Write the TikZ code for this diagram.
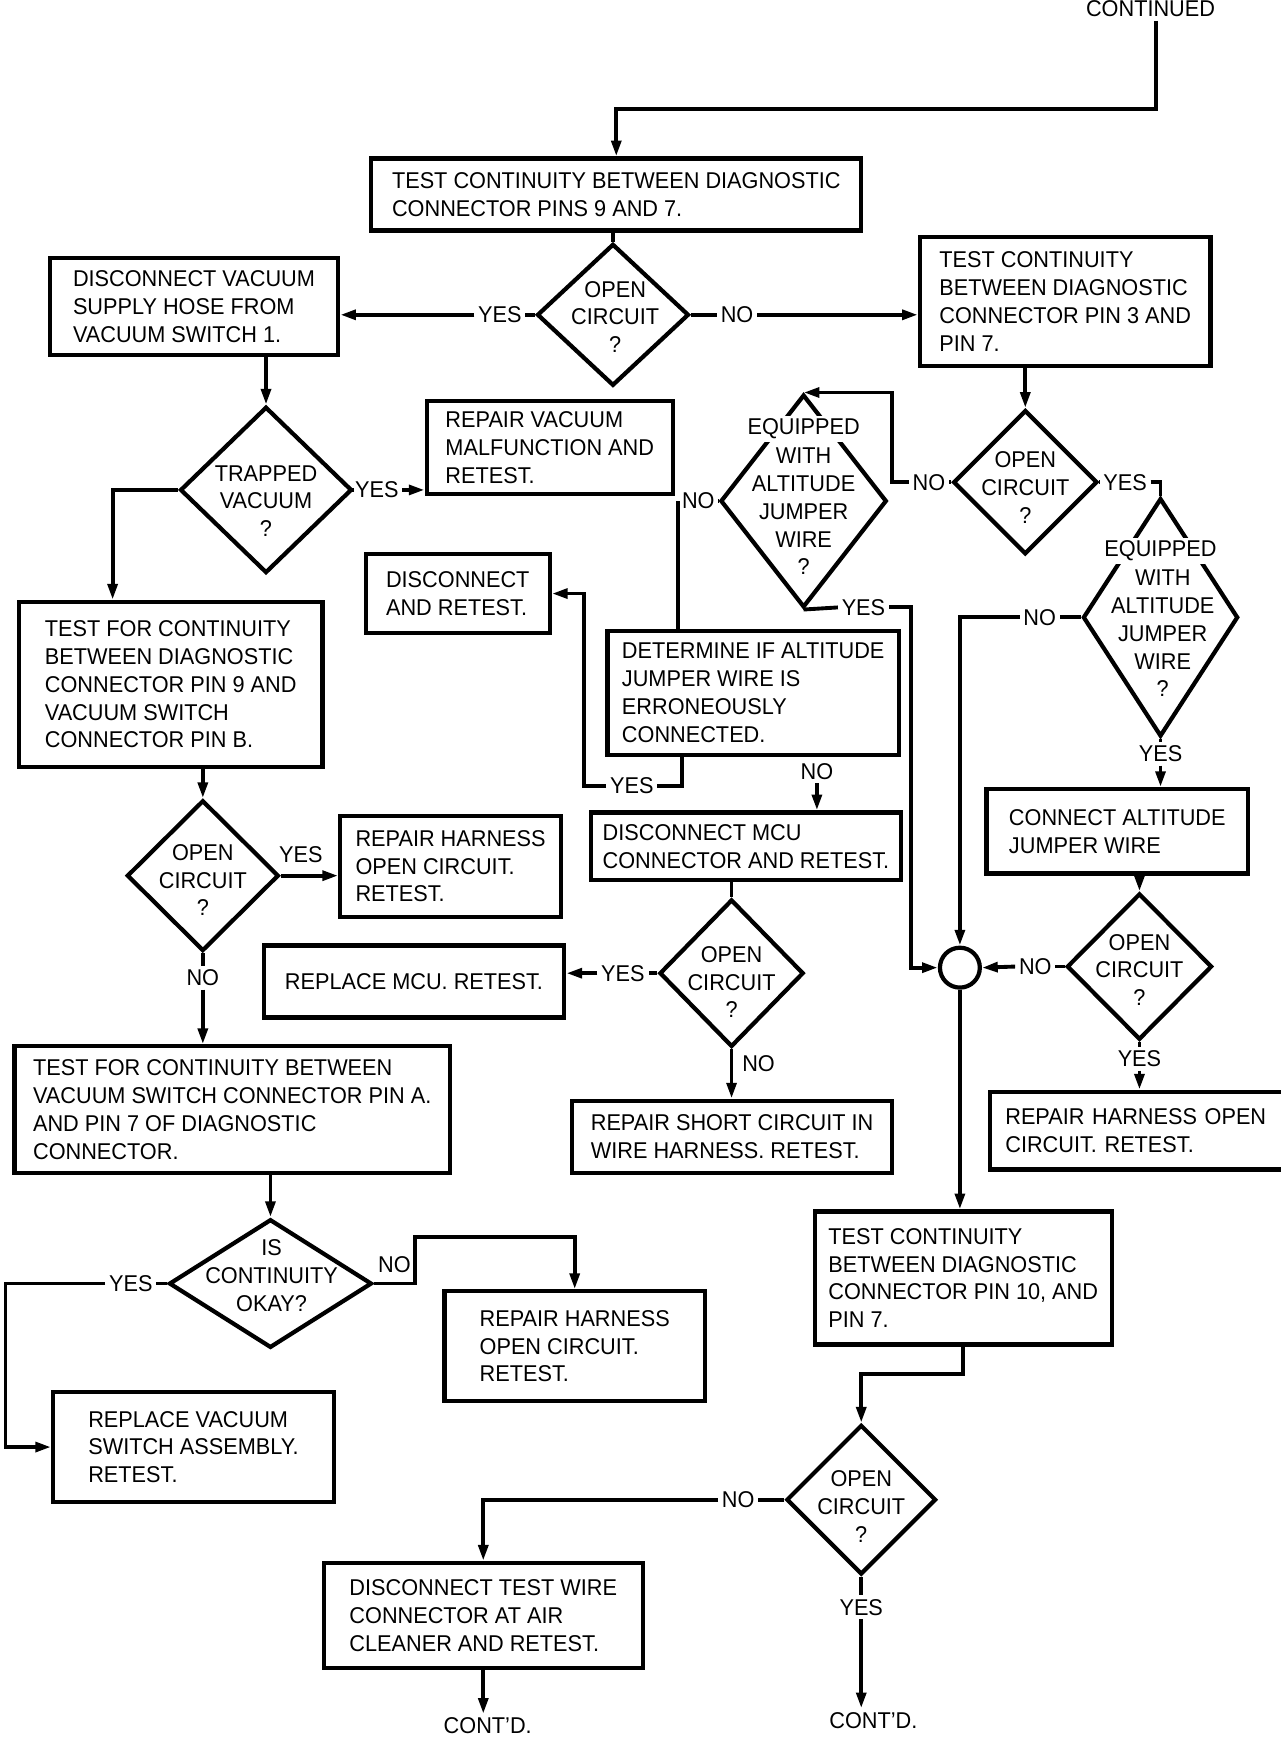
\documentclass[tikz,border=0pt]{standalone}
\usepackage{fontspec}
\setmainfont{Liberation Sans}[FakeStretch=0.95]
\usetikzlibrary{shapes.geometric,arrows.meta}

\newcommand{\px}{0.022164cm}
\newcommand{\chartfont}{\fontsize{13}{15.8}\selectfont}
\tikzset{
  testbox/.style 2 args={draw, line width=2.4pt, align=left, font=\chartfont, inner sep=0pt, minimum width=#1*\px, minimum height=#2*\px},
  query/.style 2 args={draw, diamond, line width=2.4pt, inner sep=0pt, minimum width=#1*\px, minimum height=#2*\px},
  qtext/.style={align=center, font=\chartfont, inner sep=0pt},
  answer/.style={font=\chartfont, inner sep=2pt},
  cutlabel/.style={font=\chartfont, fill=white, inner sep=1.5pt},
  flow/.style={line width=2.2pt},
  arr/.style={flow, -{Triangle[length=9pt,width=5.5pt]}},
}

\begin{document}
\begin{tikzpicture}[x=\px, y=-\px, line join=miter]
    \useasboundingbox (0,0) rectangle (1155,1568);

    % Top of the chart
    \node[answer] (cont) at (1038,8) {CONTINUED};
    \coordinate (bend0) at (1043,98);
    \node[testbox={442}{65}] (pins97) at (556,175.5) {TEST CONTINUITY BETWEEN DIAGNOSTIC\\CONNECTOR PINS 9 AND 7.};
    \node[query={137}{128}] (open1) at (553,284) {};
    \node[qtext] (open1t) at (555,286) {OPEN\\CIRCUIT\\?};

    % Left column
    \node[testbox={260}{87}] (hose) at (175,276.5) {DISCONNECT VACUUM\\SUPPLY HOSE FROM\\VACUUM SWITCH 1.};
    \node[query={155}{150}] (trap) at (240,442) {};
    \node[qtext] (trapt) at (240,452) {TRAPPED\\VACUUM\\?};
    \node[testbox={222}{84}] (repvac) at (496,404) {REPAIR VACUUM\\MALFUNCTION AND\\RETEST.};
    \node[testbox={274}{149}] (pin9b) at (154,617.5) {TEST FOR CONTINUITY\\BETWEEN DIAGNOSTIC\\CONNECTOR PIN 9 AND\\VACUUM SWITCH\\CONNECTOR PIN B.};
    \node[query={137}{136}] (open2) at (183,790) {};
    \node[qtext] (open2t) at (183,794) {OPEN\\CIRCUIT\\?};
    \node[testbox={199}{91}] (harn1) at (406.5,781.5) {REPAIR HARNESS\\OPEN CIRCUIT.\\RETEST.};
    \node[testbox={393}{114}] (pinA) at (209.5,1001) {TEST FOR CONTINUITY BETWEEN\\VACUUM SWITCH CONNECTOR PIN A.\\AND PIN 7 OF DIAGNOSTIC\\CONNECTOR.};
    \node[query={183}{116}] (okay) at (244,1158) {};
    \node[qtext] (okayt) at (245,1151) {IS\\CONTINUITY\\OKAY?};
    \node[testbox={253}{99}] (swasm) at (174.5,1305.5) {REPLACE VACUUM\\SWITCH ASSEMBLY.\\RETEST.};
    \node[testbox={235}{99}] (harn2) at (518.5,1214.5) {REPAIR HARNESS\\OPEN CIRCUIT.\\RETEST.};

    % Middle column
    \node[testbox={166}{71}] (discon) at (413,535.5) {DISCONNECT\\AND RETEST.};
    \node[query={150}{192}] (equip1) at (725,452) {};
    \node[cutlabel] (equip1a) at (725,387) {EQUIPPED};
    \node[qtext] (equip1t) at (725,461.5) {WITH\\ALTITUDE\\JUMPER\\WIRE\\?};
    \node[testbox={263}{112}] (erron) at (679.5,625) {DETERMINE IF ALTITUDE\\JUMPER WIRE IS\\ERRONEOUSLY\\CONNECTED.};
    \node[testbox={280}{61}] (mcu) at (673,763.5) {DISCONNECT MCU\\CONNECTOR AND RETEST.};
    \node[query={130}{133}] (open4) at (660,878) {};
    \node[qtext] (open4t) at (660,886) {OPEN\\CIRCUIT\\?};
    \node[testbox={271}{65}] (replmcu) at (373.5,885.5) {REPLACE MCU. RETEST.};
    \node[testbox={289}{65}] (short) at (660.5,1025.5) {REPAIR SHORT CIRCUIT IN\\WIRE HARNESS. RETEST.};

    % Right column
    \node[testbox={262}{116}] (pin3) at (961,272) {TEST CONTINUITY\\BETWEEN DIAGNOSTIC\\CONNECTOR PIN 3 AND\\PIN 7.};
    \node[query={130}{130}] (open3) at (925,435) {};
    \node[qtext] (open3t) at (925,440) {OPEN\\CIRCUIT\\?};
    \node[query={140}{215}] (equip2) at (1047,557) {};
    \node[cutlabel] (equip2a) at (1047,497) {EQUIPPED};
    \node[qtext] (equip2t) at (1049,571.5) {WITH\\ALTITUDE\\JUMPER\\WIRE\\?};
    \node[testbox={236}{76}] (jumper) at (1008,750) {CONNECT ALTITUDE\\JUMPER WIRE};
    \node[query={131}{132}] (open5) at (1028,872) {};
    \node[qtext] (open5t) at (1028,875) {OPEN\\CIRCUIT\\?};
    \node[testbox={290}{70}, text width=262*\px] (harn3) at (1038,1020) {REPAIR HARNESS OPEN\\CIRCUIT. RETEST.};
    \node[draw, circle, line width=2.4pt, inner sep=0pt, minimum size=36*\px] (jn) at (866,873) {};
    \node[testbox={268}{120}] (pin10) at (869,1153) {TEST CONTINUITY\\BETWEEN DIAGNOSTIC\\CONNECTOR PIN 10, AND\\PIN 7.};
    \node[query={135}{135}] (open6) at (777,1353) {};
    \node[qtext] (open6t) at (777,1359) {OPEN\\CIRCUIT\\?};
    \node[testbox={288}{95}] (airc) at (436,1457.5) {DISCONNECT TEST WIRE\\CONNECTOR AT AIR\\CLEANER AND RETEST.};
    \node[answer] (contd1) at (440,1557) {CONT'D.};
    \node[answer] (contd2) at (788,1552) {CONT'D.};

    % Answers
    \node[answer] (yes1) at (451,284) {YES};
    \node[answer] (no1) at (665,284) {NO};
    \node[answer] (yes2) at (340,442) {YES};
    \node[answer] (no3) at (183,882) {NO};
    \node[answer] (yes4) at (118,1158) {YES};
    \node[answer] (no5) at (630,452) {NO};
    \node[answer] (yes5) at (570,709) {YES};
    \node[answer] (no6) at (737,696) {NO};
    \node[answer] (yes7) at (562,878) {YES};
    \node[answer] (no8) at (838,435) {NO};
    \node[answer] (yes8) at (1015,435) {YES};
    \node[answer] (no9) at (938,557) {NO};
    \node[answer] (yes9) at (1047,680) {YES};
    \node[answer] (no10) at (934,872) {NO};
    \node[answer] (yes10) at (1028,955) {YES};
    \node[answer] (yes11) at (779,548) {YES};
    \node[answer] (no11) at (666,1353) {NO};
    \node[answer] (yes12) at (777,1450) {YES};

    % Connectors, top and left
    \draw[arr] (cont.south -| bend0) -- (bend0) -| (pins97.north);
    \draw[flow] (open1.north |- pins97.south) -- (open1.north);
    \draw[flow] (open1.west) -- (yes1.east);
    \draw[arr] (yes1.west) -- (yes1.west -| hose.east);
    \draw[flow] (open1.east) -- (no1.west);
    \draw[arr] (no1.east) -- (no1.east -| pin3.west);
    \draw[arr] (trap.north |- hose.south) -- (trap.north);
    \draw[flow] (trap.east) -- (yes2.west);
    \draw[arr] (yes2.east) -- (yes2.east -| repvac.west);
    \draw[arr] (trap.west) -- ++(-59,0) coordinate (bend1) -- (bend1 |- pin9b.north);
    \draw[arr] (open2.north |- pin9b.south) -- (open2.north);
    \draw[arr] (open2.east) -- node[answer, above=4pt, pos=0.35] (yes3) {YES} (open2.east -| harn1.west);
    \draw[flow] (open2.south) -- (no3.north);
    \draw[arr] (no3.south) -- (no3.south |- pinA.north);
    \draw[arr] (okay.north |- pinA.south) -- (okay.north);
    \draw[flow] (okay.west) -- (yes4.east);
    \draw[arr] (yes4.west) -- ++(-90,0) |- (swasm.west);
    \draw[arr] (okay.east) -- node[answer, above=3pt] (no4) {NO} ++(37,0) -- ++(0,-42) -| (harn2.north);

    % Connectors, middle
    \draw[flow] (equip1.west) -- (no5.east);
    \draw[flow] (no5.west) -- (no5.west |- erron.north);
    \draw[flow] (yes5.east) -- ++(22,0) coordinate (bend2) -- (bend2 |- erron.south);
    \draw[arr] (yes5.west) -- ++(-20,0) |- (discon.east);
    \draw[arr] (no6.south) -- (no6.south |- mcu.north);
    \draw[flow] (open4.north |- mcu.south) -- (open4.north);
    \draw[flow] (open4.west) -- (yes7.east);
    \draw[arr] (yes7.west) -- (yes7.west -| replmcu.east);
    \draw[arr] (open4.south) -- node[answer, right=3pt, pos=0.3] (no7) {NO} (open4.south |- short.north);

    % Connectors, right
    \draw[arr] (open3.north |- pin3.south) -- (open3.north);
    \draw[flow] (open3.west) -- (no8.east);
    \draw[arr] (no8.west) -- ++(-15,0) |- (equip1.north);
    \draw[flow] (open3.east) -- (yes8.west);
    \draw[flow] (yes8.east) -| (equip2.north);
    \draw[flow] (equip2.west) -- (no9.east);
    \draw[arr] (no9.west) -| (jn.north);
    \draw[flow] (equip2.south) -- (yes9.north);
    \draw[arr] (yes9.south) -- (yes9.south |- jumper.north);
    \draw[arr] (open5.north |- jumper.south) -- (open5.north);
    \draw[flow] (open5.west) -- (no10.east);
    \draw[arr] (no10.west) -- (jn.east);
    \draw[flow] (open5.south) -- (yes10.north);
    \draw[arr] (yes10.south) -- (yes10.south |- harn3.north);
    \draw[flow] (equip1.south) -- (yes11.west);
    \draw[arr] (yes11.east) -- ++(20,0) |- (jn.west);
    \draw[arr] (jn.south) -- (jn.south |- pin10.north);
    \draw[arr] (pin10.south) -- ++(0,25) -| (open6.north);
    \draw[flow] (open6.west) -- (no11.east);
    \draw[arr] (no11.west) -| (airc.north);
    \draw[flow] (open6.south) -- (yes12.north);
    \draw[arr] (yes12.south) -- (yes12.south |- contd2.north);
    \draw[arr] (airc.south) -- (airc.south |- contd1.north);
\end{tikzpicture}
\end{document}
